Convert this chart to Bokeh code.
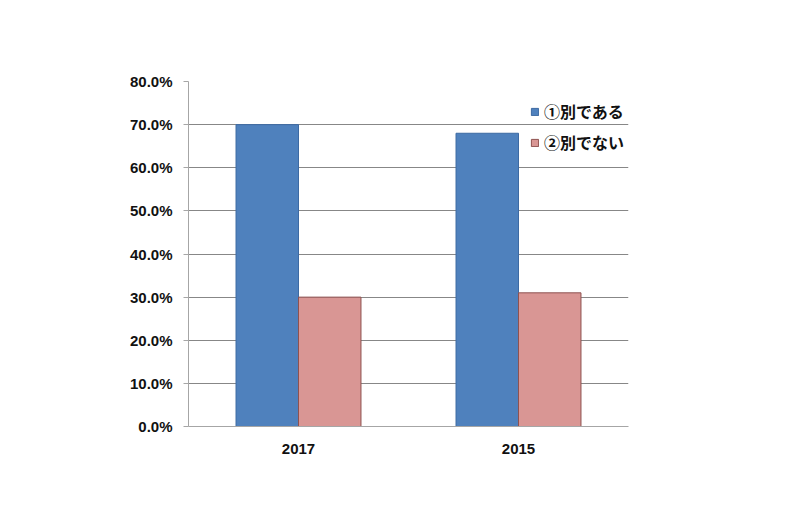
from bokeh.plotting import figure
from bokeh.models import (FactorRange, Range1d, NumeralTickFormatter, Legend, LegendItem,
                          ColumnDataSource, FixedTicker)
from bokeh.transform import dodge
from bokeh.core.properties import value
from bokeh.embed import file_html
from bokeh.resources import INLINE

years = ["2017", "2015"]
series_names = ["①別である", "②別でない"]
betsu_dearu = [0.70, 0.68]
betsu_denai = [0.30, 0.31]
y_ticks = [0.0, 0.1, 0.2, 0.3, 0.4, 0.5, 0.6, 0.7, 0.8]
colors = ["#4f81bd", "#d99694"]
edge_colors = ["#3d6aa3", "#8e5250"]

src = ColumnDataSource(dict(year=years, a=betsu_dearu, b=betsu_denai))

p = figure(x_range=FactorRange(*years, range_padding=0),
           y_range=Range1d(0, y_ticks[-1]),
           width=784, height=516, output_backend="svg", toolbar_location=None,
           min_border_left=188, min_border_right=156, min_border_top=81,
           min_border_bottom=90)

bw = 0.284
r1 = p.vbar(x=dodge("year", -bw / 2, range=p.x_range), top="a", width=bw, source=src,
            fill_color=colors[0], line_color=edge_colors[0], line_width=1)
r2 = p.vbar(x=dodge("year", bw / 2, range=p.x_range), top="b", width=bw, source=src,
            fill_color=colors[1], line_color=edge_colors[1], line_width=1)

p.outline_line_color = None
p.background_fill_color = "white"
p.border_fill_color = "white"
p.xgrid.grid_line_color = None
p.ygrid.grid_line_color = "#878787"
p.ygrid.grid_line_width = 1
p.ygrid.ticker = FixedTicker(ticks=y_ticks)

p.yaxis.ticker = FixedTicker(ticks=y_ticks)
p.yaxis.formatter = NumeralTickFormatter(format="0.0%")
p.yaxis.axis_line_color = "#a6a6a6"
p.yaxis.major_tick_line_color = "#a6a6a6"
p.yaxis.major_tick_out = 5
p.yaxis.major_tick_in = 0
p.yaxis.minor_tick_line_color = None
p.yaxis.major_label_standoff = 11
p.yaxis.major_label_text_font = "Liberation Sans"
p.yaxis.major_label_text_font_style = "bold"
p.yaxis.major_label_text_font_size = "15px"
p.yaxis.major_label_text_color = "#111111"

p.xaxis.axis_line_color = "#a6a6a6"
p.xaxis.major_tick_line_color = None
p.xaxis.minor_tick_line_color = None
p.xaxis.major_label_standoff = 11
p.xaxis.major_label_text_font = "Liberation Sans"
p.xaxis.major_label_text_font_style = "bold"
p.xaxis.major_label_text_font_size = "15px"
p.xaxis.major_label_text_color = "#111111"

legend = Legend(items=[LegendItem(label=series_names[0], renderers=[r1]),
                       LegendItem(label=series_names[1], renderers=[r2])],
                location=(342, 272))
legend.background_fill_alpha = 0
legend.border_line_color = None
legend.padding = 0
legend.margin = 0
legend.spacing = 7
legend.glyph_width = 9
legend.glyph_height = 9
legend.label_height = 20
legend.label_standoff = 5
legend.label_text_font = "Noto Sans CJK JP"
legend.label_text_font_style = "bold"
legend.label_text_font_size = "16px"
legend.label_text_color = "#111111"
p.add_layout(legend, "center")

open("out.html", "w").write(file_html(p, INLINE))
